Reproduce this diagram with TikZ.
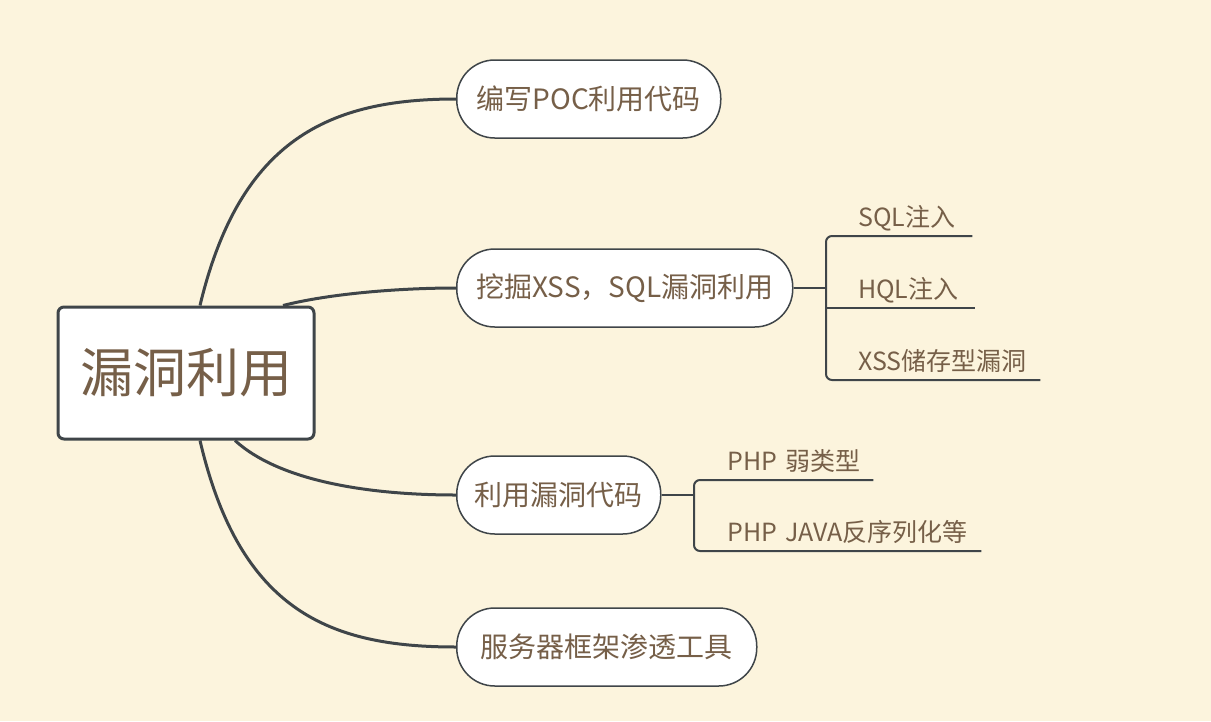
\documentclass[tikz,border=0pt]{standalone}
\usepackage{fontspec}
\setmainfont{Noto Sans CJK SC}
\definecolor{paper}{RGB}{252,244,221}
\definecolor{ink}{RGB}{118,95,72}
\definecolor{edge}{RGB}{63,69,73}

\begin{document}
\begin{tikzpicture}[x=1pt, y=1pt,
		hub/.style={draw=edge, line width=3pt, fill=white, rounded corners=6pt, minimum width=256pt, minimum height=132pt, text=ink, font=\fontsize{53}{60}\selectfont},
		pill/.style={draw=edge, line width=1.5pt, fill=white, rounded corners=38pt, minimum height=78pt, anchor=west, text=ink, font=\fontsize{28}{32}\selectfont},
		leaf/.style={anchor=south west, inner sep=0pt, text depth=9pt, align=left, text=ink, font=\fontsize{25}{29}\selectfont},
		branch/.style={draw=edge, line width=3pt},
		twig/.style={draw=edge, line width=2pt}]
		\fill[paper] (0,0) rectangle (1211,-721);
		\useasboundingbox (0,0) rectangle (1211,-721);
		\node[hub] (hub) at (186,-373) {漏洞利用};
		\node[pill, minimum width=264pt] (poc) at (456,-99) {编写POC利用代码};
		\node[pill, minimum width=336pt] (mine) at (456,-288) {挖掘XSS，SQL漏洞利用};
		\node[pill, minimum width=204pt] (code) at (456,-495) {利用漏洞代码};
		\node[pill, minimum width=300pt] (tool) at (456,-647) {服务器框架渗透工具};
		\draw[branch] ([xshift=14pt]hub.north) .. controls +(40,167) and +(-126,0) .. (poc.west);
		\draw[branch] ([xshift=97pt]hub.north) .. controls +(47,12) and +(-56,0) .. (mine.west);
		\draw[branch] ([xshift=49pt]hub.south) .. controls +(45,-41) and +(-86,0) .. (code.west);
		\draw[branch] ([xshift=14pt]hub.south) .. controls +(40,-171) and +(-126,0) .. (tool.west);
		\coordinate (b2) at (826,-288);
		\coordinate (b3) at (694,-495);
		\node[leaf, text width=114pt] (sql) at (858,-236) {SQL注入};
		\node[leaf, text width=117pt] (hql) at (858,-308) {HQL注入};
		\node[leaf, text width=182pt] (xss) at (858,-380) {XSS储存型漏洞};
		\node[leaf, text width=146pt] (weak) at (727,-480) {PHP~弱类型};
		\node[leaf, text width=254pt] (unser) at (727,-551) {PHP~JAVA反序列化等};
		\draw[twig] (mine.east) -- (b2);
		\draw[twig, rounded corners=6pt] (sql.south east) -- (sql.south -| b2) -- (xss.south -| b2) -- (xss.south east);
		\draw[twig] (hql.south -| b2) -- (hql.south east);
		\draw[twig] (code.east) -- (b3);
		\draw[twig, rounded corners=6pt] (weak.south east) -- (weak.south -| b3) -- (unser.south -| b3) -- (unser.south east);
	\end{tikzpicture}
\end{document}
